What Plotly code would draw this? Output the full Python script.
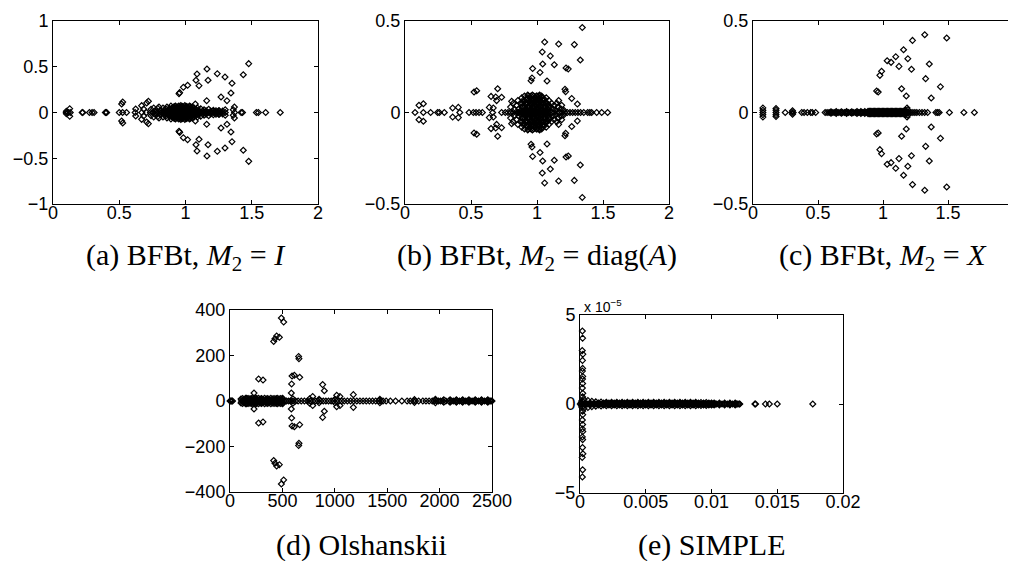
import plotly.graph_objects as go

# ---- (a) BFBt, M2 = I ----
a_real = [0.10, 0.115, 0.13, 0.22, 0.225, 0.275, 0.295, 0.31, 0.395, 0.40, 0.405, 0.50, 0.525,
          0.555, 0.62, 0.67, 0.705, 0.735, 0.755, 0.775, 0.79, 0.805, 0.82, 0.835, 0.85, 0.86,
          0.87, 0.88, 0.89, 0.90, 0.91, 0.92, 0.93, 0.94, 0.95, 0.96, 0.97, 0.98, 0.99, 1.00,
          1.01, 1.02, 1.03, 1.04, 1.05, 1.06, 1.075, 1.09, 1.105, 1.12, 1.135, 1.15, 1.17, 1.19,
          1.21, 1.225, 1.24, 1.25, 1.26, 1.30, 1.37, 1.42, 1.43, 1.535, 1.55, 1.605, 1.715]
a_cx_re = [1.477, 1.436, 1.162, 1.087, 1.240, 1.298, 1.079, 1.170, 1.351, 1.016, 0.984, 1.102,
           0.956, 0.951, 1.343, 1.268, 1.313, 1.160, 1.074, 1.369, 0.526, 0.518, 0.720, 0.707,
           0.669, 0.624, 0.684, 0.126, 0.101, 1.30, 1.25, 1.36,
           0.74, 0.76, 0.77, 0.79, 0.80, 0.81, 0.83, 0.84, 0.85, 0.86, 0.87, 0.88, 0.885, 0.89,
           0.90, 0.905, 0.91, 0.92, 0.925, 0.93, 0.935, 0.94, 0.945, 0.95, 0.955, 0.96, 0.965,
           0.97, 0.975, 0.98, 0.985, 0.99, 0.995, 1.00, 1.005, 1.01, 1.015, 1.02, 1.03, 1.035,
           1.04, 1.05, 1.055, 1.065, 1.07, 1.08, 1.09, 1.10, 1.115, 1.13, 1.14, 1.155, 1.175,
           1.19, 1.21, 1.23, 1.255, 1.28,
           0.885, 0.905, 0.925, 0.945, 0.965, 0.985, 1.005, 1.025, 1.045, 1.065,
           0.895, 0.915, 0.935, 0.955, 0.975, 0.995, 1.015, 1.035, 1.055,
           0.90, 0.92, 0.94, 0.96, 0.98, 1.00, 1.02, 1.04,
           0.915, 0.945, 0.975, 1.005, 1.035]
a_cx_im = [0.534, 0.413, 0.475, 0.421, 0.424, 0.388, 0.352, 0.352, 0.319, 0.297, 0.275, 0.293,
           0.217, 0.206, 0.213, 0.169, 0.129, 0.129, 0.093, 0.060, 0.115, 0.093, 0.122, 0.104,
           0.075, 0.038, 0.038, 0.042, 0.013, 0.03, 0.02, 0.03,
           0.035, 0.05, 0.02, 0.045, 0.06, 0.025, 0.05, 0.02, 0.04, 0.06, 0.025, 0.045, 0.02, 0.07,
           0.035, 0.055, 0.015, 0.045, 0.07, 0.025, 0.055, 0.015, 0.04, 0.07, 0.025, 0.05, 0.075,
           0.02, 0.04, 0.065, 0.025, 0.05, 0.075, 0.015, 0.04, 0.065, 0.025, 0.05, 0.07, 0.02,
           0.045, 0.06, 0.025, 0.05, 0.015, 0.035, 0.05, 0.02, 0.04, 0.015, 0.03, 0.02, 0.035,
           0.015, 0.025, 0.02, 0.02, 0.015,
           0.01, 0.01, 0.01, 0.01, 0.01, 0.01, 0.01, 0.01, 0.01, 0.01,
           0.03, 0.03, 0.03, 0.03, 0.03, 0.03, 0.03, 0.03, 0.03,
           0.05, 0.05, 0.05, 0.05, 0.05, 0.05, 0.05, 0.05,
           0.065, 0.065, 0.065, 0.065, 0.065]

# ---- (b) BFBt, M2 = diag(A) ----
b_real = [0.076, 0.139, 0.194, 0.247, 0.260, 0.298, 0.415, 0.485, 0.518, 0.538, 0.561, 0.586,
          0.664, 0.732, 0.76, 0.78, 0.80, 0.82, 0.84, 0.86, 0.87, 0.88, 0.89, 0.90, 0.91, 0.92,
          0.93, 0.94, 0.95, 0.96, 0.97, 0.98, 0.99, 1.00, 1.01, 1.02, 1.03, 1.04, 1.05, 1.06,
          1.07, 1.08, 1.09, 1.11, 1.13, 1.15, 1.17, 1.19, 1.21, 1.23, 1.25, 1.27, 1.29, 1.31,
          1.33, 1.354, 1.384, 1.40, 1.414, 1.452, 1.49, 1.535]
b_cx_re = [1.343, 1.058, 1.164, 1.283, 1.040, 1.101, 1.328, 1.043, 1.131, 1.220, 1.237, 0.967,
           1.023, 0.962, 0.955, 1.076, 1.212, 1.217, 1.263, 1.306, 0.702, 0.652, 0.687, 0.732,
           0.694, 0.639, 0.669, 0.523, 0.543, 0.361, 0.404, 0.106, 0.139, 0.808, 1.164, 1.187,
           1.15,
           0.80, 0.82, 0.83, 0.845, 0.855, 0.865, 0.875, 0.885, 0.89, 0.90, 0.905, 0.91, 0.92,
           0.925, 0.93, 0.935, 0.94, 0.945, 0.95, 0.955, 0.96, 0.965, 0.97, 0.975, 0.98, 0.985,
           0.99, 0.995, 1.00, 1.005, 1.01, 1.015, 1.02, 1.025, 1.03, 1.035, 1.04, 1.045, 1.05,
           1.06, 1.065, 1.07, 1.08, 1.085, 1.09, 1.10, 1.11, 1.12, 1.13, 1.14, 1.16, 1.18, 1.20,
           0.875, 0.895, 0.915, 0.935, 0.955, 0.975, 0.995, 1.015, 1.035, 1.055, 1.075,
           0.885, 0.905, 0.925, 0.945, 0.965, 0.985, 1.005, 1.025, 1.045, 1.065, 1.085,
           0.89, 0.91, 0.93, 0.95, 0.97, 0.99, 1.01, 1.03, 1.05, 1.07,
           0.90, 0.92, 0.94, 0.96, 0.98, 1.00, 1.02, 1.04, 1.06,
           0.935, 0.955, 0.975, 0.995, 1.015, 1.035]
b_cx_im = [0.464, 0.385, 0.374, 0.371, 0.331, 0.309, 0.287, 0.265, 0.261, 0.243, 0.238, 0.240,
           0.219, 0.189, 0.174, 0.172, 0.127, 0.114, 0.077, 0.046, 0.130, 0.088, 0.085, 0.083,
           0.065, 0.028, 0.025, 0.112, 0.119, 0.025, 0.028, 0.039, 0.048, 0.061, 0.065, 0.039,
           0.05,
           0.03, 0.05, 0.015, 0.04, 0.065, 0.02, 0.05, 0.08, 0.03, 0.06, 0.09, 0.015, 0.045,
           0.075, 0.095, 0.03, 0.06, 0.085, 0.015, 0.045, 0.07, 0.095, 0.03, 0.055, 0.08, 0.015,
           0.04, 0.065, 0.09, 0.025, 0.05, 0.075, 0.095, 0.035, 0.06, 0.085, 0.015, 0.045, 0.07,
           0.03, 0.055, 0.08, 0.02, 0.045, 0.065, 0.03, 0.05, 0.02, 0.04, 0.015, 0.03, 0.02, 0.015,
           0.01, 0.01, 0.01, 0.01, 0.01, 0.01, 0.01, 0.01, 0.01, 0.01, 0.01,
           0.03, 0.03, 0.03, 0.03, 0.03, 0.03, 0.03, 0.03, 0.03, 0.03, 0.03,
           0.05, 0.05, 0.05, 0.05, 0.05, 0.05, 0.05, 0.05, 0.05, 0.05,
           0.07, 0.07, 0.07, 0.07, 0.07, 0.07, 0.07, 0.07, 0.07,
           0.09, 0.09, 0.09, 0.09, 0.09, 0.09]

# ---- (c) BFBt, M2 = X ----
c_real = [0.076, 0.177, 0.248, 0.299, 0.309, 0.375, 0.393, 0.418, 0.444, 0.456, 0.482, 0.555,
          0.57, 0.585, 0.60, 0.615, 0.63, 0.645, 0.66, 0.675, 0.69, 0.705, 0.72, 0.735, 0.75,
          0.76, 0.775, 0.79, 0.80, 0.81, 0.825, 0.835, 0.845, 0.86, 0.87, 0.88, 0.89, 0.90,
          0.91, 0.92, 0.93, 0.94, 0.95, 0.96, 0.97, 0.98, 0.99, 1.00, 1.01, 1.02, 1.03, 1.04,
          1.05, 1.06, 1.07, 1.08, 1.09, 1.10, 1.11, 1.12, 1.13, 1.14, 1.15, 1.16, 1.17, 1.18,
          1.19, 1.20, 1.215, 1.23, 1.245, 1.26, 1.28, 1.30, 1.32, 1.343, 1.407, 1.42, 1.432,
          1.511, 1.622, 1.703]
c_cx_re = [1.321, 1.490, 1.227, 1.158, 1.098, 1.032, 1.062, 1.191, 1.123, 1.219, 1.356, 0.989,
           0.976, 1.328, 1.442, 1.143, 1.179, 1.371, 0.951, 0.963, 0.076, 0.076, 0.177, 0.177,
           0.304, 1.175, 1.185, 1.19,
           0.885, 0.895, 0.905, 0.915, 0.925, 0.935, 0.945, 0.955, 0.965, 0.975, 0.985, 0.995,
           1.005, 1.015, 1.025, 1.035, 1.045, 1.055, 1.065, 1.075, 1.085, 1.095, 1.105, 1.115,
           1.125, 1.135, 1.145, 1.155, 1.165,
           0.60, 0.64, 0.68, 0.72, 0.76, 0.80, 0.83, 0.86]
c_cx_im = [0.425, 0.407, 0.394, 0.343, 0.305, 0.283, 0.274, 0.294, 0.252, 0.236, 0.265, 0.225,
           0.203, 0.185, 0.141, 0.130, 0.090, 0.079, 0.117, 0.112, 0.012, 0.025, 0.012, 0.022,
           0.010, 0.012, 0.025, 0.015,
           0.006, 0.007, 0.006, 0.007, 0.006, 0.007, 0.006, 0.007, 0.006, 0.007, 0.006, 0.007,
           0.006, 0.007, 0.006, 0.007, 0.006, 0.007, 0.006, 0.007, 0.006, 0.007, 0.006, 0.007,
           0.006, 0.007, 0.006, 0.007, 0.006,
           0.004, 0.005, 0.004, 0.005, 0.004, 0.005, 0.005, 0.005]

# ---- (d) Olshanskii ----
d_real = [0, 8, 16, 24, 110, 125, 140, 155, 170, 185, 200, 215, 230, 245, 260, 275, 290, 305,
          320, 335, 350, 365, 380, 395, 410, 425, 440, 455, 470, 485, 500, 520, 540, 560, 580,
          600, 625, 650, 680, 710, 740, 765, 790, 815, 840, 865, 890, 915, 940, 965, 990, 1015,
          1040, 1065, 1090, 1120, 1150, 1180, 1210, 1240, 1270, 1300, 1330, 1360, 1390, 1420,
          1440, 1460, 1490, 1530, 1580, 1640, 1690, 1720, 1750, 1770, 1800, 1840, 1870, 1900,
          1930, 1950, 1970, 1990, 2010, 2030, 2060, 2090, 2110, 2130, 2150, 2170, 2190, 2210,
          2230, 2250, 2270, 2290, 2310, 2330, 2350, 2370, 2390, 2410, 2430, 2450, 2465, 2480,
          2490, 2500]
d_cx_re = [490, 512, 417, 429, 445, 471, 655, 658, 273, 315, 592, 614, 665, 588, 585, 229, 884,
           900, 1177, 1018, 1049, 789, 160, 200, 250, 300, 350, 440, 500, 600, 760, 850, 1000,
           1430, 1760, 1960,
           105, 120, 135, 150, 165, 180, 195, 210, 225, 240, 255, 270, 285, 300, 315, 330, 345,
           360, 375, 390, 405, 420, 435, 450, 465, 480, 495, 505, 2040, 2100, 2160, 2220, 2280,
           2340, 2400, 2460]
d_cx_im = [365, 347, 262, 274, 286, 280, 196, 186, 97, 92, 110, 113, 104, 75, 35, 35, 72, 45,
           28, 25, 20, 20, 12, 10, 12, 10, 8, 10, 12, 10, 10, 8, 8, 8, 6, 8,
           9, 11, 8, 12, 9, 11, 8, 12, 9, 11, 8, 12, 9, 11, 8, 12, 9, 11, 8, 12, 9, 11, 8, 12,
           9, 11, 8, 10, 5, 5, 5, 5, 5, 5, 5, 5]

# ---- (e) SIMPLE ----
e_real = [0.00002, 0.0001, 0.0002, 0.0003, 0.0004, 0.0005, 0.0006, 0.0007, 0.0008, 0.0009,
          0.0010, 0.0011, 0.0012, 0.0013, 0.0014, 0.0015, 0.0016, 0.0017, 0.0018, 0.0019,
          0.0020, 0.0021, 0.0022, 0.0023, 0.0024, 0.0025, 0.0026, 0.0027, 0.0028, 0.0029,
          0.0030, 0.0031, 0.0032, 0.0033, 0.0034, 0.0035, 0.0036, 0.0037, 0.0038, 0.0039,
          0.0040, 0.0041, 0.0042, 0.0043, 0.0044, 0.0045, 0.0046, 0.0047, 0.0048, 0.0049,
          0.0050, 0.0051, 0.0052, 0.0053, 0.0054, 0.0055, 0.0056, 0.0057, 0.0058, 0.0059,
          0.0060, 0.0061, 0.0062, 0.0063, 0.0064, 0.0065, 0.0066, 0.0067, 0.0068, 0.0069,
          0.0070, 0.0071, 0.0072, 0.0073, 0.0074, 0.0075, 0.0076, 0.0077, 0.0078, 0.0079,
          0.0080, 0.0081, 0.0082, 0.0083, 0.0084, 0.0085, 0.0086, 0.0087, 0.0088, 0.0089,
          0.0090, 0.0091, 0.0092, 0.0093, 0.0094, 0.0095, 0.0096, 0.0097, 0.0098, 0.0099,
          0.0100, 0.0101, 0.0102, 0.0103, 0.0104, 0.0106, 0.0108, 0.0110, 0.0112, 0.0114,
          0.0116, 0.0118, 0.0119, 0.0120, 0.0121, 0.01215,
          0.0133, 0.01335, 0.0141, 0.0144, 0.0150, 0.0177]
e_cx_re = [0.00018, 0.0002, 0.00017, 0.00022, 0.00019, 0.0002, 0.00018, 0.00021, 0.00019,
           0.0002, 0.00018, 0.00021, 0.0002, 0.00015, 0.0001, 0.0003, 0.0006, 0.0009,
           0.0012, 0.0016, 0.0020, 0.0024, 0.0028, 0.0032, 0.0036, 0.0040, 0.0044, 0.0048,
           0.0052, 0.0056, 0.0060, 0.0064, 0.0068, 0.0072, 0.0076, 0.0080, 0.0084, 0.0088,
           0.0092, 0.0096, 0.0100,
           0.0014, 0.0018, 0.0022, 0.0026, 0.0030, 0.0034, 0.0038, 0.0042, 0.0046, 0.0050,
           0.0054, 0.0058, 0.0062, 0.0066, 0.0070, 0.0074, 0.0078, 0.0082, 0.0086, 0.0090,
           0.0094, 0.0098, 0.0102, 0.0106, 0.0110, 0.0114, 0.0118]
e_cx_im = [4.1e-5, 3.7e-5, 3.0e-5, 2.8e-5, 2.45e-5, 2.0e-5, 1.85e-5, 1.55e-5, 1.4e-5, 1.15e-5,
           0.9e-5, 0.6e-5, 0.4e-5, 0.2e-5, 0.1e-5, 0.25e-5, 0.2e-5, 0.15e-5,
           0.12e-5, 0.11e-5, 0.1e-5, 0.1e-5, 0.1e-5, 0.1e-5, 0.1e-5, 0.1e-5, 0.1e-5, 0.1e-5,
           0.1e-5, 0.1e-5, 0.1e-5, 0.1e-5, 0.1e-5, 0.1e-5, 0.1e-5, 0.1e-5, 0.1e-5, 0.1e-5,
           0.08e-5, 0.08e-5, 0.06e-5,
           0.05e-5, 0.05e-5, 0.05e-5, 0.05e-5, 0.05e-5, 0.05e-5, 0.05e-5, 0.05e-5, 0.05e-5,
           0.05e-5, 0.05e-5, 0.05e-5, 0.05e-5, 0.05e-5, 0.05e-5, 0.05e-5, 0.05e-5, 0.05e-5,
           0.05e-5, 0.05e-5, 0.05e-5, 0.05e-5, 0.05e-5, 0.05e-5, 0.05e-5, 0.05e-5, 0.05e-5]

captions = ["(a) BFBt, <i>M</i><sub>2</sub> = <i>I</i>",
            "(b) BFBt, <i>M</i><sub>2</sub> = diag(<i>A</i>)",
            "(c) BFBt, <i>M</i><sub>2</sub> = <i>X</i>",
            "(d) Olshanskii",
            "(e) SIMPLE"]

W, H = 1016, 561
# axes boxes in pixels: left, right, top, bottom
boxes = [(45, 310, 13, 196), (397, 661, 13, 196), (745, 1005, 13, 196),
         (222, 484, 302, 484), (572, 835, 307, 485)]
panels = [
    dict(re=a_real, cr=a_cx_re, ci=a_cx_im, xr=[0, 2], yr=[-1, 1],
         xt=[0, 0.5, 1, 1.5, 2], yt=[-1, -0.5, 0, 0.5, 1], ytt=None),
    dict(re=b_real, cr=b_cx_re, ci=b_cx_im, xr=[0, 2], yr=[-0.5, 0.5],
         xt=[0, 0.5, 1, 1.5, 2], yt=[-0.5, 0, 0.5], ytt=None),
    dict(re=c_real, cr=c_cx_re, ci=c_cx_im, xr=[0, 2], yr=[-0.5, 0.5],
         xt=[0, 0.5, 1, 1.5, 2], yt=[-0.5, 0, 0.5], ytt=None),
    dict(re=d_real, cr=d_cx_re, ci=d_cx_im, xr=[0, 2500], yr=[-400, 400],
         xt=[0, 500, 1000, 1500, 2000, 2500], yt=[-400, -200, 0, 200, 400], ytt=None),
    dict(re=e_real, cr=e_cx_re, ci=e_cx_im, xr=[0, 0.02], yr=[-5e-5, 5e-5],
         xt=[0, 0.005, 0.01, 0.015, 0.02], yt=[-5e-5, 0, 5e-5], ytt=["\u22125", "0", "5"]),
]

fig = go.Figure()
tick_font = dict(family="Liberation Sans, Arial, sans-serif", size=18, color="black")
cap_y = [249, 249, 249, 537, 537]

for i, (p, box) in enumerate(zip(panels, boxes)):
    n = "" if i == 0 else str(i + 1)
    # eigenvalues: real ones plus complex conjugate pairs
    xs = list(p["re"]) + list(p["cr"]) + list(p["cr"])
    ys = [0] * len(p["re"]) + list(p["ci"]) + [-v for v in p["ci"]]
    fig.add_trace(go.Scatter(
        x=xs, y=ys, mode="markers", xaxis="x" + n, yaxis="y" + n,
        marker=dict(symbol="diamond-open", size=4.5, color="black",
                    line=dict(width=1.2, color="black")),
        cliponaxis=False, showlegend=False, hoverinfo="x+y"))
    l, r, t, b = box
    ax = dict(showline=True, linecolor="black", linewidth=1, mirror="allticks",
              ticks="inside", ticklen=4, tickcolor="black", showgrid=False, zeroline=False,
              tickfont=tick_font, automargin=False)
    fig.layout["xaxis" + n] = dict(ax, domain=[l / W, r / W], range=p["xr"], tickvals=p["xt"],
                                   anchor="y" + n, ticklabelstandoff=-8)
    yax = dict(ax, domain=[1 - b / H, 1 - t / H], range=p["yr"], tickvals=p["yt"],
               anchor="x" + n)
    if p["ytt"]:
        yax["ticktext"] = p["ytt"]
    fig.layout["yaxis" + n] = yax
    fig.add_annotation(text=captions[i], xref="paper", yref="paper",
                       x=(l + r) / 2 / W, y=1 - cap_y[i] / H, xanchor="center", yanchor="middle",
                       showarrow=False,
                       font=dict(family="Liberation Serif, Times New Roman, serif", size=30,
                                 color="black"))

fig.add_annotation(text="x 10<sup>\u22125</sup>", xref="paper", yref="paper",
                   x=574 / W, y=1 - 309 / H, xanchor="left", yanchor="bottom", showarrow=False,
                   font=dict(family="Liberation Sans, Arial, sans-serif", size=14, color="black"))

fig.update_layout(width=W, height=H, margin=dict(l=0, r=0, t=0, b=0),
                  paper_bgcolor="white", plot_bgcolor="white")

fig.write_html("out.html")
